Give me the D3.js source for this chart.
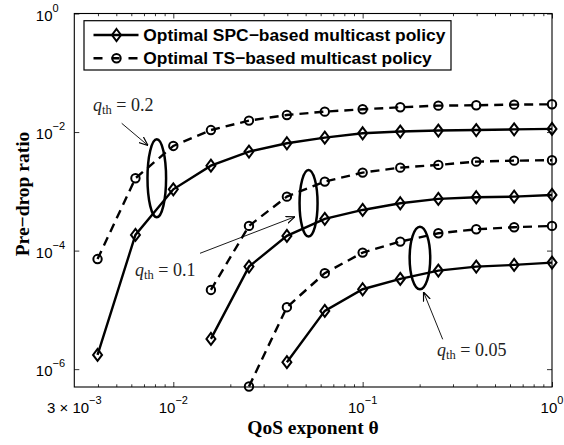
<!DOCTYPE html>
<html>
<head>
<meta charset="utf-8">
<script src="https://cdn.jsdelivr.net/npm/d3@7"></script>
<style>
  body { margin: 0; background: #fff; }
  svg { display: block; }
  .tick text { display: none; }
</style>
</head>
<body>
<div id="chart"></div>
<script>
// theta values (log spaced, 0.2 decade apart)
const theta = [0.00398, 0.00631, 0.01, 0.0158, 0.0251, 0.0398, 0.0631, 0.1, 0.158, 0.251, 0.398, 0.631, 1];

// pre-drop ratio per curve, null where the curve has no point
const spc02 = [1.74e-6, 1.84e-4, 1.08e-3, 2.71e-3, 4.68e-3, 6.47e-3, 8.05e-3, 9.53e-3, 1.02e-2, 1.06e-2, 1.08e-2, 1.11e-2, 1.13e-2];
const ts02  = [7.2e-5, 1.66e-3, 5.83e-3, 1.08e-2, 1.56e-2, 1.94e-2, 2.21e-2, 2.42e-2, 2.62e-2, 2.79e-2, 2.83e-2, 2.90e-2, 2.94e-2];
const spc01 = [null, null, null, 3.24e-6, 5.37e-5, 1.77e-4, 3.43e-4, 4.85e-4, 6.29e-4, 7.45e-4, 7.94e-4, 8.14e-4, 8.69e-4];
const ts01  = [null, null, null, 2.17e-5, 2.61e-4, 8.14e-4, 1.46e-3, 2.07e-3, 2.51e-3, 2.79e-3, 3.17e-3, 3.29e-3, 3.35e-3];
const spc005 = [null, null, null, null, null, 1.31e-6, 9.62e-6, 2.23e-5, 3.33e-5, 4.6e-5, 5.37e-5, 5.74e-5, 6.28e-5];
const ts005  = [null, null, null, null, 5.1e-7, 1.11e-5, 4.16e-5, 9.25e-5, 1.42e-4, 1.96e-4, 2.29e-4, 2.48e-4, 2.61e-4];

const xMajor = [0.01, 0.1, 1];
const xMinor = [0.004, 0.005, 0.006, 0.007, 0.008, 0.009,
                0.02, 0.03, 0.04, 0.05, 0.06, 0.07, 0.08, 0.09,
                0.2, 0.3, 0.4, 0.5, 0.6, 0.7, 0.8, 0.9];
const xLabels = [[0.003, "3 \u00d7 10", "\u22123"], [0.01, "10", "\u22122"], [0.1, "10", "\u22121"], [1, "10", "0"]];
const yMajor = [1e-6, 1e-4, 1e-2, 1];
const yLabels = [[1, "0"], [1e-2, "\u22122"], [1e-4, "\u22124"], [1e-6, "\u22126"]];

const legendNames = ["Optimal SPC\u2212based multicast policy", "Optimal TS\u2212based multicast policy"];

// ellipse groups: centre in data coords, radii in px
const groups = [
  { label: "0.2",  cx: 8.18e-3, cy: 1.66e-3, rx: 9.3, ry: 39,
    arrow: [121.7, 123.3, 148, 145.5], text: [93, 111] },
  { label: "0.1",  cx: 0.0518, cy: 6.28e-4, rx: 9, ry: 33.3,
    arrow: [200, 253.3, 295, 216.7], text: [135, 275.5] },
  { label: "0.05", cx: 0.2007, cy: 7.51e-5, rx: 10.3, ry: 31.3,
    arrow: [442.7, 339.3, 423.5, 292], text: [437, 356] }
];

const width = 564, height = 445;
const plotL = 74.3, plotR = 552, plotT = 13.5, plotB = 387;

const x = d3.scaleLog().domain([0.003, 1]).range([plotL, plotR]);
const y = d3.scaleLog().domain([5e-7, 1]).range([plotB, plotT]);

const svg = d3.select("#chart").append("svg")
    .attr("width", width)
    .attr("height", height);

svg.append("defs").append("marker")
    .attr("id", "head")
    .attr("viewBox", "0 0 10 10")
    .attr("refX", 10).attr("refY", 5)
    .attr("markerWidth", 9).attr("markerHeight", 9)
    .attr("markerUnits", "userSpaceOnUse")
    .attr("orient", "auto")
  .append("path")
    .attr("d", "M0,1 L10,5 L0,9")
    .attr("fill", "none")
    .attr("stroke", "#000")
    .attr("stroke-width", 1.3);

// ticks, inward on all four sides
function ticks(axis, transform) {
  const g = svg.append("g").attr("transform", transform).call(axis);
  g.select(".domain").remove();
  g.selectAll(".tick line").attr("stroke", "#000").attr("stroke-width", 0.8);
}
ticks(d3.axisBottom(x).tickValues(xMajor).tickSizeInner(-5).tickSizeOuter(0), `translate(0,${plotB})`);
ticks(d3.axisBottom(x).tickValues(xMinor).tickSizeInner(-2.7).tickSizeOuter(0), `translate(0,${plotB})`);
ticks(d3.axisTop(x).tickValues(xMajor).tickSizeInner(-5).tickSizeOuter(0), `translate(0,${plotT})`);
ticks(d3.axisTop(x).tickValues(xMinor).tickSizeInner(-2.7).tickSizeOuter(0), `translate(0,${plotT})`);
ticks(d3.axisLeft(y).tickValues(yMajor).tickSizeInner(-5).tickSizeOuter(0), `translate(${plotL},0)`);
ticks(d3.axisRight(y).tickValues(yMajor).tickSizeInner(-5).tickSizeOuter(0), `translate(${plotR},0)`);

svg.append("rect")
    .attr("x", plotL).attr("y", plotT)
    .attr("width", plotR - plotL).attr("height", plotB - plotT)
    .attr("fill", "none").attr("stroke", "#000").attr("stroke-width", 1.1);

// tick labels
const tickFont = "'Liberation Sans', Arial, sans-serif";
xLabels.forEach(([v, base, sup]) => {
  const t = svg.append("text")
      .attr("x", x(v)).attr("y", 413)
      .attr("text-anchor", "middle")
      .attr("font-family", tickFont).attr("font-size", 15);
  t.append("tspan").text(base);
  t.append("tspan").attr("dy", -9).attr("font-size", 11).text(sup);
});
yLabels.forEach(([v, sup]) => {
  svg.append("text")
      .attr("x", 52.5).attr("y", y(v) + 7)
      .attr("text-anchor", "end")
      .attr("font-family", tickFont).attr("font-size", 15)
      .text("10");
  svg.append("text")
      .attr("x", 52.5).attr("y", y(v) - 2)
      .attr("font-family", tickFont).attr("font-size", 11)
      .text(sup);
});

// axis titles
svg.append("text")
    .attr("x", 313).attr("y", 434)
    .attr("text-anchor", "middle")
    .attr("font-family", "'Liberation Serif', 'Times New Roman', serif")
    .attr("font-weight", "bold").attr("font-size", 19.5)
    .text("QoS exponent \u03b8");
svg.append("text")
    .attr("transform", "translate(29,194) rotate(-90)")
    .attr("text-anchor", "middle")
    .attr("font-family", "'Liberation Serif', 'Times New Roman', serif")
    .attr("font-weight", "bold").attr("font-size", 19.5)
    .text("Pre\u2212drop ratio");

// curves
const line = d3.line()
    .defined(d => d[1] != null)
    .x(d => x(d[0]))
    .y(d => y(d[1]));

const diamond = "M0,-6 L4.5,0 L0,6 L-4.5,0 Z";

function drawSeries(values, dashed) {
  const pts = theta.map((t, i) => [t, values[i]]);
  svg.append("path")
      .attr("d", line(pts))
      .attr("fill", "none")
      .attr("stroke", "#000")
      .attr("stroke-width", 2.4)
      .attr("stroke-dasharray", dashed ? "9,6" : null);
  const shown = pts.filter(d => d[1] != null);
  if (dashed) {
    svg.selectAll(null).data(shown).enter().append("circle")
        .attr("cx", d => x(d[0])).attr("cy", d => y(d[1]))
        .attr("r", 4.2)
        .attr("fill", "none").attr("stroke", "#000").attr("stroke-width", 2);
  } else {
    svg.selectAll(null).data(shown).enter().append("path")
        .attr("d", diamond)
        .attr("transform", d => `translate(${x(d[0])},${y(d[1])})`)
        .attr("fill", "none").attr("stroke", "#000").attr("stroke-width", 2);
  }
}
drawSeries(ts02, true);
drawSeries(spc02, false);
drawSeries(ts01, true);
drawSeries(spc01, false);
drawSeries(ts005, true);
drawSeries(spc005, false);

// annotations
groups.forEach(gr => {
  svg.append("ellipse")
      .attr("cx", x(gr.cx)).attr("cy", y(gr.cy))
      .attr("rx", gr.rx).attr("ry", gr.ry)
      .attr("fill", "none").attr("stroke", "#000").attr("stroke-width", 2.5);
  svg.append("line")
      .attr("x1", gr.arrow[0]).attr("y1", gr.arrow[1])
      .attr("x2", gr.arrow[2]).attr("y2", gr.arrow[3])
      .attr("stroke", "#000").attr("stroke-width", 0.9)
      .attr("marker-end", "url(#head)");
  const t = svg.append("text")
      .attr("x", gr.text[0]).attr("y", gr.text[1])
      .attr("font-family", "'Liberation Serif', 'Times New Roman', serif")
      .attr("font-size", 18).attr("fill", "#222");
  t.append("tspan").attr("font-style", "italic").text("q");
  t.append("tspan").attr("font-size", 12.5).attr("dy", 3).text("th");
  t.append("tspan").attr("dy", -3).text(" = " + gr.label);
});

// legend
const lg = svg.append("g");
lg.append("rect")
    .attr("x", 84).attr("y", 20.7)
    .attr("width", 367).attr("height", 49.3)
    .attr("fill", "#fff").attr("stroke", "#000").attr("stroke-width", 1.2);
legendNames.forEach((name, i) => {
  const ly = 35 + i * 23.3;
  lg.append("line")
      .attr("x1", 93.5).attr("x2", 138.5)
      .attr("y1", ly).attr("y2", ly)
      .attr("stroke", "#000").attr("stroke-width", 2.4)
      .attr("stroke-dasharray", i === 1 ? "9,9,8,9,9" : null);
  if (i === 0) {
    lg.append("path").attr("d", diamond)
        .attr("transform", `translate(116.5,${ly})`)
        .attr("fill", "none").attr("stroke", "#000").attr("stroke-width", 2);
  } else {
    lg.append("circle").attr("cx", 116.5).attr("cy", ly).attr("r", 4.2)
        .attr("fill", "none").attr("stroke", "#000").attr("stroke-width", 2);
  }
  lg.append("text")
      .attr("x", 143.3).attr("y", ly + 6)
      .attr("font-family", tickFont)
      .attr("font-weight", "bold").attr("font-size", 17.4)
      .text(name);
});
</script>
</body>
</html>
